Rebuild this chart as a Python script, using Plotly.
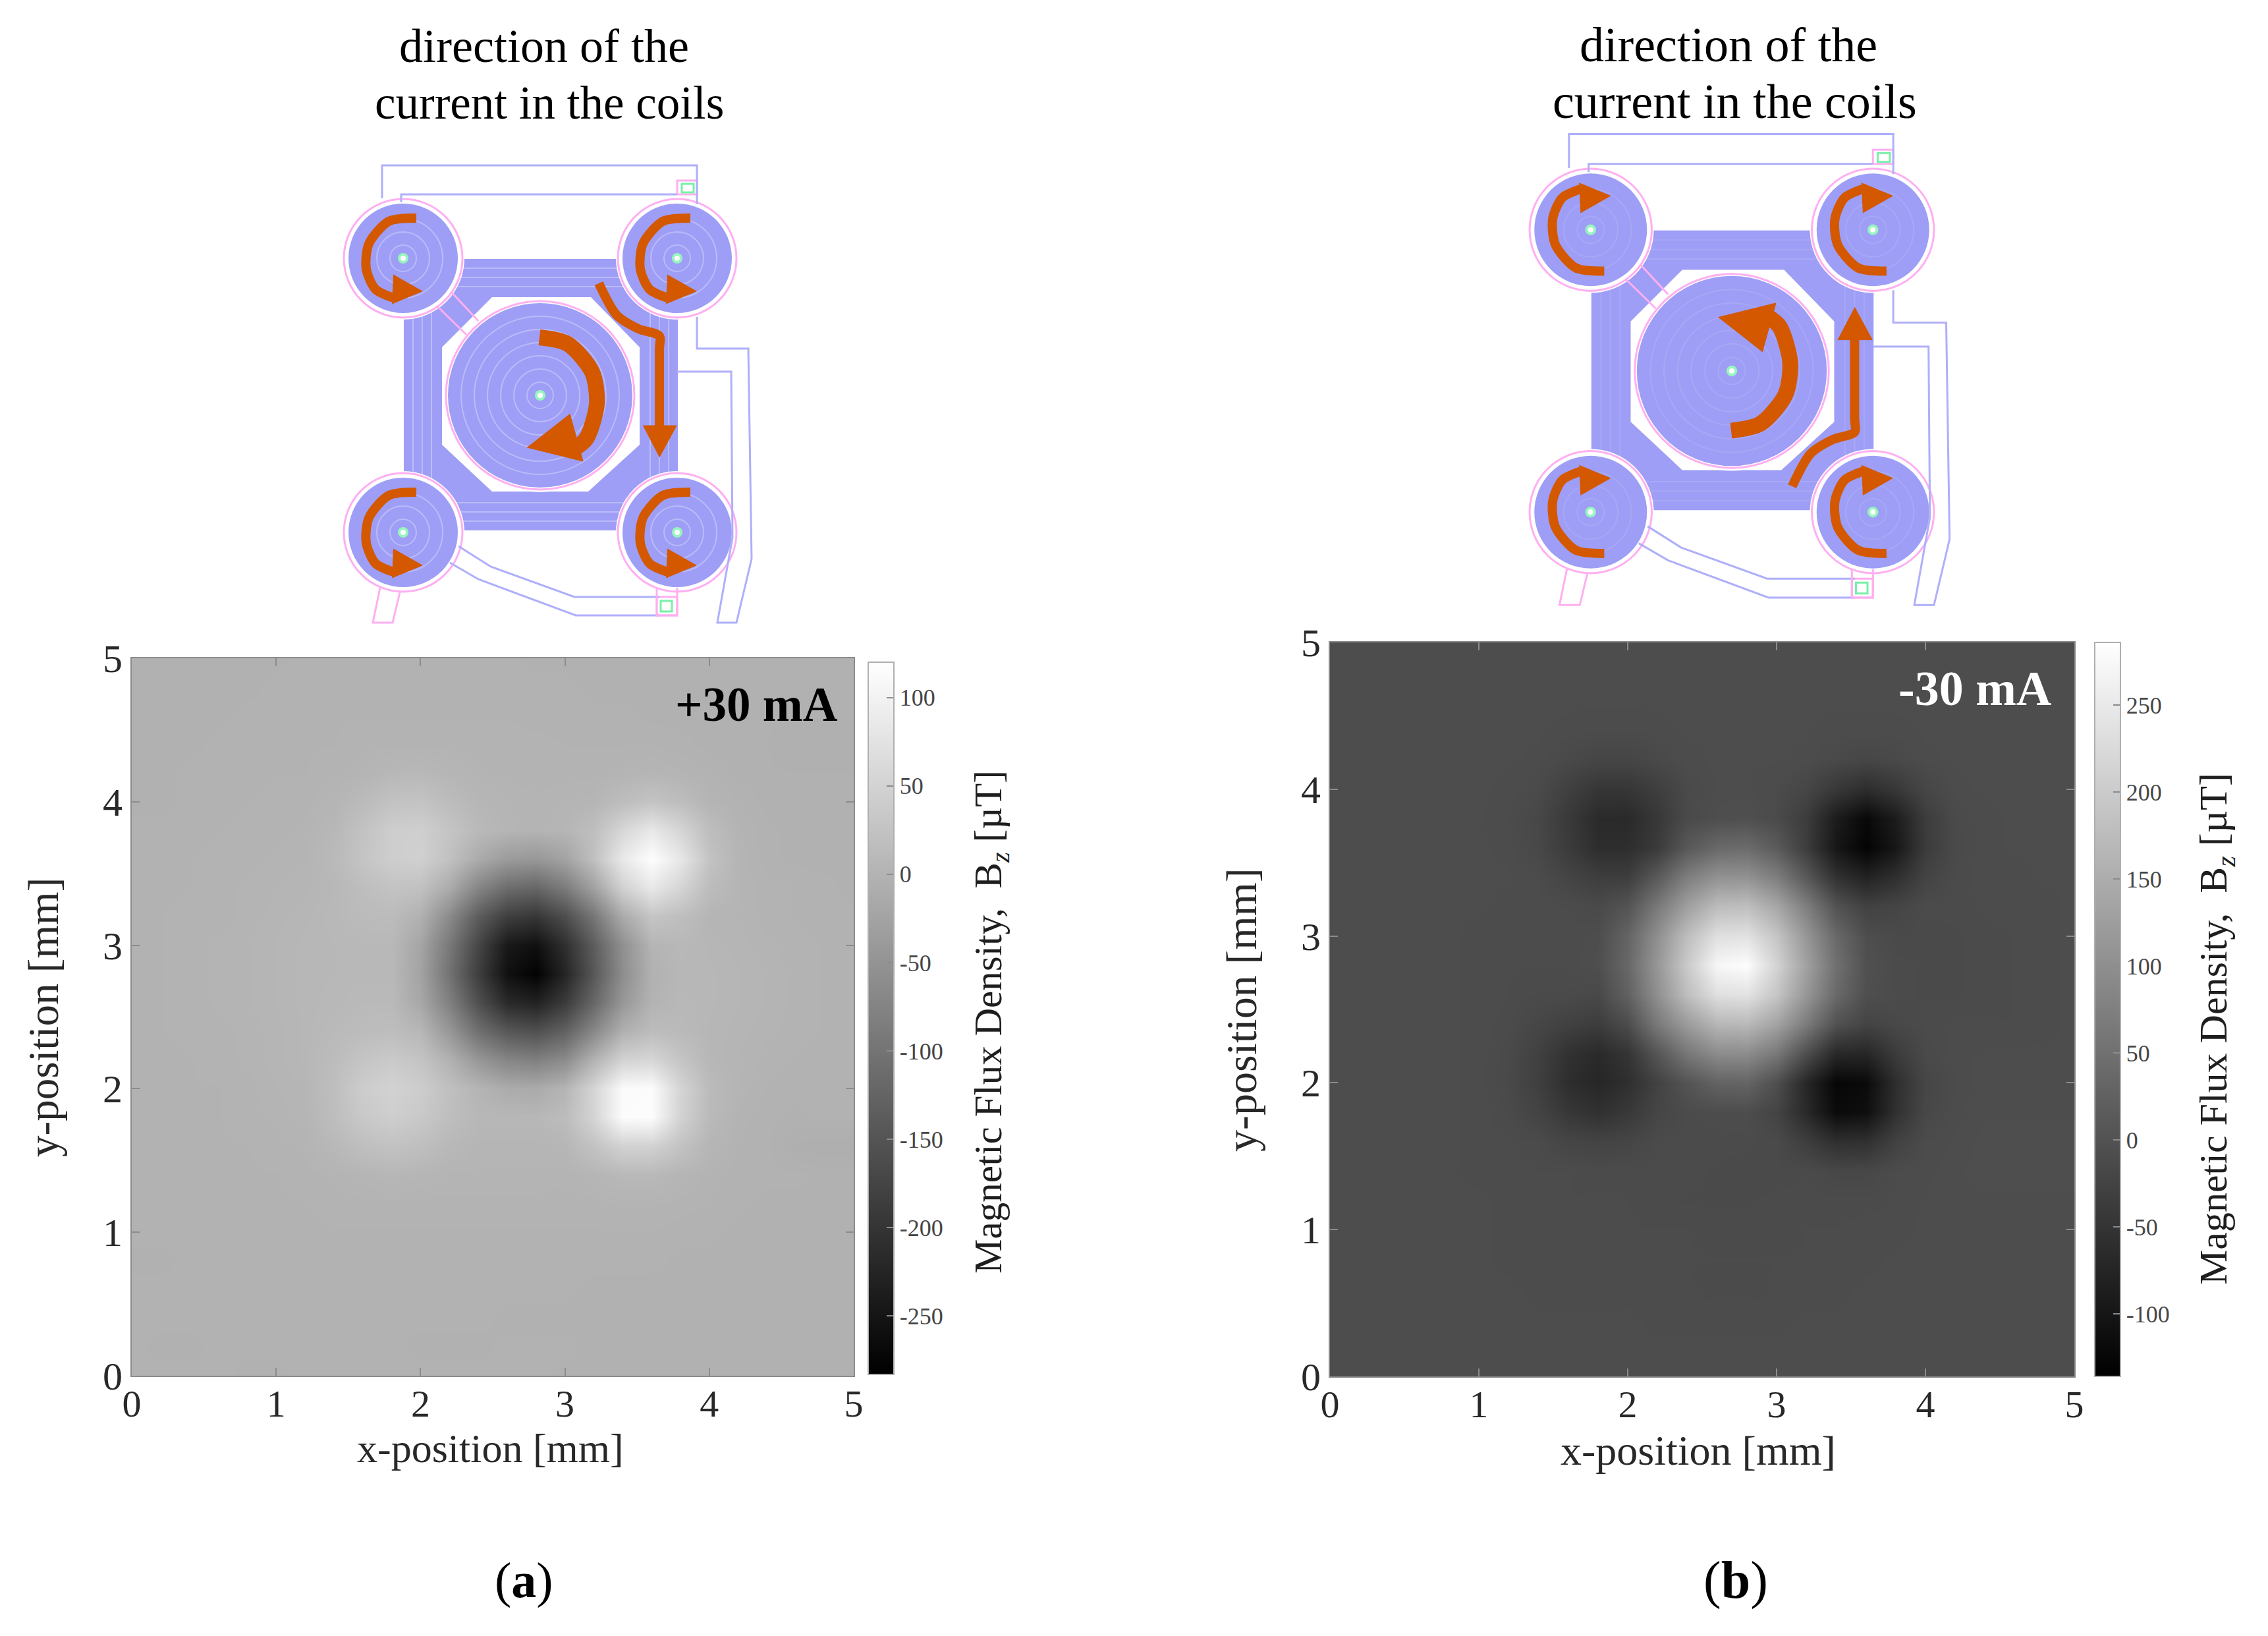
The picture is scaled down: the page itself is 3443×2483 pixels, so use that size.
# %%
import plotly.graph_objs as go

PAGE_W = 3443
PAGE_H = 2483
# the browser leaves this body margin around the figure
PAGE_PAD = 8

# measured grid positions [mm]
x_mm = [0.0, 0.2, 0.4, 0.6, 0.8, 1.0, 1.2, 1.4, 1.6, 1.8, 2.0, 2.2, 2.4, 2.6, 2.8, 3.0, 3.2, 3.4, 3.6, 3.8, 4.0, 4.2, 4.4, 4.6, 4.8, 5.0]
y_mm = [0.0, 0.2, 0.4, 0.6, 0.8, 1.0, 1.2, 1.4, 1.6, 1.8, 2.0, 2.2, 2.4, 2.6, 2.8, 3.0, 3.2, 3.4, 3.6, 3.8, 4.0, 4.2, 4.4, 4.6, 4.8, 5.0]

# Bz [uT] at +30 mA, rows run from y=0 to y=5
bz_plus = [
    [-2, -2, -2, -2, -3, -3, -2, -2, -2, -2, -2, -2, -2, -2, -2, -3, -3, -3, -3, -3, -3, -3, -3, -3, -3, -3],
    [-2, -3, -3, -2, -2, -2, -2, -2, -2, -2, -3, -3, -3, -2, -2, -2, -3, -3, -3, -3, -3, -4, -4, -3, -3, -3],
    [-2, -2, -2, -2, -2, -2, -2, -1, -1, -2, -2, -2, -2, -3, -3, -3, -3, -3, -3, -3, -4, -4, -4, -4, -4, -4],
    [-2, -2, -2, -2, -2, -2, -2, -2, -2, -2, -2, -2, -2, -2, -2, -2, -3, -3, -3, -3, -3, -3, -3, -4, -4, -4],
    [-3, -3, -2, -2, -2, -2, -1, -1, -1, -1, -1, -1, -1, -2, -2, -2, -2, -2, -2, -3, -3, -3, -4, -4, -4, -4],
    [-2, -2, -2, -2, -2, -2, -2, -1, -1, -1, -1, -1, -1, -1, -1, -1, -1, -1, -1, -2, -2, -3, -3, -3, -3, -3],
    [-2, -2, -2, -2, -1, -1, -1, 0, 0, 0, 0, 0, 0, 0, 0, 0, 0, 1, 1, 0, -1, -2, -3, -3, -3, -3],
    [-2, -2, -2, -2, -1, -1, 0, 1, 3, 6, 4, 2, 2, 2, 2, 1, 3, 9, 9, 3, 0, -2, -2, -2, -3, -3],
    [-2, -2, -2, -1, -1, 0, 1, 8, 18, 23, 18, 8, 3, 3, 3, 5, 24, 48, 48, 24, 3, -1, -2, -6, -7, -7],
    [-2, -2, -2, -1, 0, 1, 3, 16, 34, 42, 34, 17, 7, 7, 7, 14, 52, 115, 116, 50, 10, 0, -2, -3, -2, -2],
    [-2, -2, -1, -1, 0, 2, 4, 18, 40, 49, 41, 20, 2, -12, -14, 3, 53, 113, 115, 52, 12, 2, -1, -2, -2, -2],
    [-2, -2, -1, 0, 1, 3, 6, 14, 28, 36, 27, -2, -44, -72, -80, -62, 0, 50, 56, 28, 6, 2, 0, -1, -2, -2],
    [-2, -1, 0, 0, 1, 3, 6, 10, 14, 16, 6, -44, -107, -145, -157, -129, -69, -5, 15, 10, 5, 3, 1, 0, -1, -2],
    [-2, -1, 0, 1, 2, 4, 6, 8, 10, 10, -18, -80, -157, -217, -229, -189, -120, -44, 0, 8, 6, 4, 2, 0, -1, -2],
    [-2, -1, 0, 1, 2, 4, 6, 7, 8, 8, -25, -102, -185, -257, -280, -225, -145, -60, -3, 6, 6, 4, 2, 0, -1, -2],
    [-2, -1, 0, 1, 2, 4, 6, 7, 8, 8, -22, -93, -173, -245, -258, -209, -137, -56, 2, 8, 5, 3, 1, 0, -1, -2],
    [-2, -1, 0, 0, 1, 3, 5, 8, 12, 13, -3, -64, -137, -185, -197, -161, -96, -14, 28, 17, 3, 2, 0, -1, -2, -2],
    [-2, -2, -1, 0, 1, 2, 3, 7, 17, 25, 22, -12, -72, -111, -120, -87, -28, 48, 84, 54, 14, 2, 0, -1, -2, -3],
    [-2, -2, -1, 0, 0, 1, 2, 10, 27, 42, 46, 22, -13, -38, -44, -26, 20, 85, 118, 82, 25, 2, -2, -3, -3, -3],
    [-2, -2, -2, -1, 0, 0, 1, 7, 24, 42, 44, 27, 10, 3, 1, 4, 18, 56, 84, 54, 16, 1, -2, -3, -3, -4],
    [-3, -3, -2, -2, -1, 0, 0, 3, 12, 24, 26, 14, 5, 2, 1, 2, 3, 16, 26, 16, 2, -1, -3, -4, -4, -4],
    [-3, -3, -2, -2, -2, -1, -1, 0, 2, 7, 8, 4, 1, 0, 0, 0, 0, 1, 3, 1, -1, -3, -4, -4, -4, -4],
    [-3, -3, -3, -2, -2, -2, -1, -1, 0, 0, 0, 0, 0, 0, 0, -1, -1, -1, -1, -2, -3, -4, -4, -5, -5, -5],
    [-3, -3, -3, -3, -2, -2, -2, -1, -1, -1, -1, -1, -1, -1, -2, -2, -2, -2, -3, -3, -3, -4, -4, -4, -4, -4],
    [-3, -3, -3, -3, -3, -2, -2, -2, -2, -2, -2, -2, -2, -2, -2, -2, -3, -3, -3, -3, -3, -3, -3, -3, -4, -4],
    [-3, -3, -3, -3, -3, -3, -2, -2, -2, -2, -2, -2, -2, -2, -3, -3, -3, -3, -3, -3, -3, -3, -3, -3, -3, -3],
]

# Bz [uT] at -30 mA, rows run from y=0 to y=5
bz_minus = [
    [-9, -9, -9, -9, -9, -9, -9, -9, -9, -9, -9, -9, -9, -9, -9, -9, -9, -9, -9, -9, -9, -9, -9, -9, -9, -9],
    [-9, -9, -9, -9, -9, -9, -9, -9, -9, -9, -9, -9, -9, -9, -9, -9, -9, -9, -9, -9, -9, -9, -9, -9, -9, -9],
    [-9, -9, -9, -9, -9, -9, -9, -9, -9, -9, -9, -10, -10, -10, -10, -10, -9, -9, -9, -9, -9, -9, -9, -8, -8, -8],
    [-9, -9, -9, -9, -9, -9, -9, -10, -10, -10, -10, -10, -11, -12, -12, -11, -10, -10, -9, -9, -9, -9, -9, -9, -9, -9],
    [-9, -9, -9, -9, -9, -9, -10, -10, -10, -11, -11, -11, -11, -11, -11, -11, -11, -10, -10, -9, -9, -9, -9, -9, -9, -9],
    [-9, -9, -9, -9, -9, -9, -10, -10, -10, -10, -11, -11, -11, -12, -12, -12, -11, -11, -10, -10, -9, -8, -8, -8, -8, -8],
    [-9, -9, -9, -9, -9, -9, -10, -10, -11, -11, -11, -12, -13, -13, -13, -12, -12, -12, -12, -11, -9, -8, -8, -8, -8, -8],
    [-9, -9, -9, -9, -9, -10, -10, -11, -11, -12, -12, -12, -12, -13, -14, -14, -13, -18, -18, -11, -10, -8, -7, -7, -7, -7],
    [-9, -9, -9, -9, -9, -10, -11, -13, -21, -24, -21, -13, -12, -12, -12, -14, -34, -58, -56, -28, -11, -9, -7, -7, -7, -7],
    [-9, -9, -9, -9, -9, -10, -13, -24, -45, -56, -43, -21, -12, -10, -9, -24, -68, -118, -112, -56, -18, -10, -8, -8, -8, -8],
    [-9, -9, -9, -9, -9, -10, -15, -32, -61, -73, -59, -27, 3, 28, 30, -6, -72, -126, -119, -60, -20, -11, -8, -8, -9, -9],
    [-9, -9, -9, -9, -9, -10, -14, -29, -54, -67, -50, 5, 61, 95, 95, 62, -8, -70, -73, -38, -14, -10, -9, -9, -9, -9],
    [-9, -9, -9, -9, -9, -10, -12, -20, -29, -36, -10, 65, 121, 166, 170, 134, 68, -2, -24, -16, -12, -11, -11, -11, -10, -9],
    [-9, -9, -9, -9, -9, -10, -11, -13, -13, -16, 24, 101, 178, 234, 238, 190, 113, 38, -6, -12, -13, -13, -12, -11, -10, -9],
    [-9, -9, -9, -9, -9, -10, -11, -11, -11, -7, 35, 113, 198, 272, 282, 213, 130, 49, -3, -12, -13, -13, -12, -11, -10, -9],
    [-9, -9, -9, -9, -9, -10, -11, -11, -11, -8, 29, 101, 178, 234, 238, 190, 113, 38, -8, -14, -14, -13, -12, -11, -10, -9],
    [-9, -9, -9, -9, -9, -9, -10, -10, -11, -15, 3, 65, 128, 176, 180, 140, 74, 1, -28, -22, -12, -12, -11, -10, -10, -9],
    [-9, -9, -9, -9, -9, -9, -9, -11, -23, -34, -34, 12, 72, 105, 105, 72, 10, -55, -80, -58, -24, -12, -10, -10, -9, -9],
    [-9, -9, -9, -9, -9, -9, -10, -17, -38, -61, -60, -39, 10, 38, 42, 14, -36, -98, -130, -98, -38, -14, -10, -9, -9, -9],
    [-9, -9, -9, -9, -9, -9, -11, -18, -41, -66, -67, -44, -14, -7, -5, -13, -36, -90, -122, -90, -36, -13, -10, -9, -9, -9],
    [-9, -9, -9, -9, -9, -9, -10, -13, -31, -47, -47, -33, -14, -9, -9, -12, -20, -44, -62, -44, -20, -10, -9, -9, -9, -9],
    [-9, -9, -9, -9, -9, -9, -9, -10, -15, -21, -21, -15, -10, -9, -9, -9, -10, -15, -20, -15, -10, -9, -9, -9, -9, -9],
    [-9, -9, -9, -9, -9, -9, -9, -9, -10, -11, -11, -10, -9, -9, -9, -9, -9, -10, -10, -10, -9, -9, -9, -9, -9, -9],
    [-9, -9, -9, -9, -9, -9, -9, -9, -9, -9, -9, -9, -9, -8, -8, -9, -9, -9, -9, -9, -9, -9, -9, -9, -9, -9],
    [-9, -9, -9, -9, -9, -9, -9, -9, -9, -9, -9, -9, -9, -9, -9, -9, -9, -9, -9, -9, -9, -9, -9, -9, -9, -9],
    [-9, -9, -9, -9, -9, -9, -9, -9, -9, -9, -9, -9, -9, -9, -9, -9, -9, -9, -9, -9, -9, -9, -9, -9, -9, -9],
]

axis_ticks = [0, 1, 2, 3, 4, 5]
cbar_plus_ticks = [-250, -200, -150, -100, -50, 0, 50, 100]
cbar_plus_labels = ["-250", "-200", "-150", "-100", "-50", "0", "50", "100"]
cbar_minus_ticks = [-100, -50, 0, 50, 100, 150, 200, 250]
cbar_minus_labels = ["-100", "-50", "0", "50", "100", "150", "200", "250"]

# coil layout sketch, px relative to the centre coil of panel (a)
coil_centres = [(-208, -208), (208, -208), (-208, 208), (208, 208)]
hole_x = [-73, 77, 151, 151, 73, -73, -149, -149]
hole_y = [-149, -149, -73, 75, 146, 146, 75, -73]
wires_blue = [
    ([-240, -240, 238, 238], [-299, -349, -349, -290]),
    ([-211, -211, 208], [-293, -305, -305]),
    ([238, 238, 316, 321, 298, 269, 292, 290, 208], [-119, -71, -71, 248, 345, 345, 216, -36, -36]),
    ([-124, -75, 52, 181], [229, 260, 306, 306]),
    ([-137, -94, 54, 181], [254, 279, 334, 334]),
]
wires_pink = [
    ([-243, -254, -224, -213], [292, 345, 345, 299]),
    ([-135, -94], [-157, -113]),
    ([-156, -112], [-135, -92]),
    ([177, 177, 208, 208], [292, 334, 334, 292]),
]
pads = [(208, -326, 238, -305, 215, -321, 233, -308), (177, 306, 208, 334, 183, 312, 200, 328)]
small_arc_x = [20, -22, -52, -56, -42, -15]
small_arc_y = [-61, -56, -22, 16, 47, 60]
small_head_x = [-15, 29, -17]
small_head_y = [25, 50, 69]
centre_arc_x = [-1, 42, 79, 86, 70, 50]
centre_arc_y = [-88, -78, -35, 13, 66, 82]
centre_head_x = [45, 65, -20]
centre_head_y = [28, 100, 79]
lead_x = [89, 116, 149, 181, 181, 181]
lead_y = [-170, -122, -101, -90, -70, 47]
lead_head_x = [156, 207, 181]
lead_head_y = [46, 46, 94]

SERIF = "Liberation Serif"
COIL_BLUE = "rgb(158,158,246)"
WIRE_BLUE = "rgb(175,175,250)"
PINK = "rgb(255,175,240)"
ORANGE = "rgb(211,88,0)"
AXIS_GREY = "rgb(140,140,140)"


def px_x(v):
    return (v - PAGE_PAD) / PAGE_W


def px_y(v):
    return 1 - (v - PAGE_PAD) / PAGE_H


def sketch(cx, cy, scale, flip, stripe):
    """Coil sketch, drawn on a hidden axis that runs in page pixels."""
    traces = []
    shapes = []
    sign = -1 if flip else 1

    def X(v):
        return cx + v * scale

    def Y(v):
        return cy + v * scale

    def rect(x0, y0, x1, y1, fill, line, width=0):
        shapes.append(dict(type="rect", xref="x3", yref="y3", x0=X(x0), y0=Y(y0), x1=X(x1), y1=Y(y1), fillcolor=fill,
                           line=dict(color=line, width=width), layer="below"))

    def disc(x, y, r, fill, line="rgba(0,0,0,0)", width=0):
        shapes.append(dict(type="circle", xref="x3", yref="y3", x0=X(x - r), y0=Y(y - r), x1=X(x + r), y1=Y(y + r),
                           fillcolor=fill, line=dict(color=line, width=width), layer="below"))

    # square coil band with the octagon hole
    rect(-207, -207, 209, 205, COIL_BLUE, COIL_BLUE)
    for inset in (14, 28, 42):
        rect(-207 + inset, -207 + inset, 209 - inset, 205 - inset, "rgba(0,0,0,0)", stripe, 2)
    hole_path = "M " + " L ".join(f"{X(a):.1f},{Y(b):.1f}" for a, b in zip(hole_x, hole_y)) + " Z"
    shapes.append(dict(type="path", xref="x3", yref="y3", path=hole_path, fillcolor="white", line=dict(width=0), layer="below"))

    # centre coil
    disc(0, 0, 147, "white")
    disc(0, 0, 143, "white", PINK, 3)
    disc(0, 0, 140, COIL_BLUE)
    for r in (20, 40, 60, 80, 100, 120):
        disc(0, 0, r, "rgba(0,0,0,0)", stripe, 2)

    # corner coils
    for px, py in coil_centres:
        disc(px, py, 93, "white")
        disc(px, py, 90, "white", PINK, 3)
        disc(px, py, 83, COIL_BLUE)
        for r in (20, 40, 60):
            disc(px, py, r, "rgba(0,0,0,0)", stripe, 2)

    # vias
    for px, py in coil_centres + [(0, 0)]:
        disc(px, py, 8, "rgb(150,245,190)")
        disc(px, py, 4, "white")

    # pads
    for p in pads:
        rect(p[0], p[1], p[2], p[3], "white", PINK, 3)
        rect(p[4], p[5], p[6], p[7], "white", "rgb(120,240,170)", 3)

    for xs, ys in wires_blue:
        traces.append(go.Scatter(x=[X(v) for v in xs], y=[Y(v) for v in ys], mode="lines", line=dict(color=WIRE_BLUE, width=3),
                                 xaxis="x3", yaxis="y3", showlegend=False, hoverinfo="skip"))
    for xs, ys in wires_pink:
        traces.append(go.Scatter(x=[X(v) for v in xs], y=[Y(v) for v in ys], mode="lines", line=dict(color=PINK, width=3),
                                 xaxis="x3", yaxis="y3", showlegend=False, hoverinfo="skip"))

    # current arrows, panel (b) is the same sketch flipped top to bottom
    def arrow(ox, oy, ax, ay, hx, hy, width):
        traces.append(go.Scatter(x=[X(ox + v) for v in ax], y=[Y(oy + sign * v) for v in ay], mode="lines",
                                 line=dict(color=ORANGE, width=width, shape="spline", smoothing=0.8),
                                 xaxis="x3", yaxis="y3", showlegend=False, hoverinfo="skip"))
        traces.append(go.Scatter(x=[X(ox + v) for v in hx], y=[Y(oy + sign * v) for v in hy], mode="lines", fill="toself",
                                 fillcolor=ORANGE, line=dict(color=ORANGE, width=1),
                                 xaxis="x3", yaxis="y3", showlegend=False, hoverinfo="skip"))

    for px, py in coil_centres:
        arrow(px, py, small_arc_x, small_arc_y, small_head_x, small_head_y, 14)
    arrow(0, 0, centre_arc_x, centre_arc_y, centre_head_x, centre_head_y, 24)
    arrow(0, 0, lead_x, lead_y, lead_head_x, lead_head_y, 14)
    return traces, shapes


def cbar(x0, top, bottom, ticks, labels):
    return dict(x=px_x(x0), xanchor="left", xpad=0, ypad=0, y=px_y(bottom), yanchor="bottom", len=(bottom - top) / PAGE_H,
                lenmode="fraction", thickness=39, thicknessmode="pixels", ticks="inside", ticklen=12, tickwidth=2,
                tickcolor=AXIS_GREY, tickvals=ticks, ticktext=labels, tickfont=dict(family=SERIF, size=36, color="rgb(70,70,70)"),
                outlinecolor="rgb(175,175,175)", outlinewidth=2, borderwidth=0)


gray = [[0, "black"], [1, "white"]]
data = [
    go.Heatmap(x=x_mm, y=y_mm, z=bz_plus, zmin=-283, zmax=120, colorscale=gray, zsmooth="best", xaxis="x", yaxis="y",
               colorbar=cbar(1318, 1005, 2086, cbar_plus_ticks, cbar_plus_labels)),
    go.Heatmap(x=x_mm, y=y_mm, z=bz_minus, zmin=-136, zmax=286, colorscale=gray, zsmooth="best", xaxis="x2", yaxis="y2",
               colorbar=cbar(3180, 975, 2089, cbar_minus_ticks, cbar_minus_labels)),
]

traces_a, shapes_a = sketch(820, 600, 1.0, False, "rgba(222,222,255,0.45)")
traces_b, shapes_b = sketch(2629, 563, 1.03, True, "rgba(185,185,250,0.35)")
data = data + traces_a + traces_b


def heat_axis(domain, anchor, label_shift, label_size):
    return dict(domain=domain, range=[0, 5], tickvals=axis_ticks, ticks="inside", ticklen=12, tickwidth=2, tickcolor=AXIS_GREY,
                showgrid=False, zeroline=False, showline=True, linecolor=AXIS_GREY, linewidth=2, mirror="ticks", anchor=anchor,
                tickfont=dict(family=SERIF, size=label_size, color="rgb(40,40,40)"), ticklabelstandoff=label_shift)


def note(x, y, text, size, color="black", angle=0):
    return dict(x=px_x(x), y=px_y(y), xref="paper", yref="paper", text=text, showarrow=False, textangle=angle,
                font=dict(family=SERIF, size=size, color=color), xanchor="center", yanchor="middle")


bz_title = "Magnetic Flux Density,  B<sub><i>z</i></sub> [µT]"
annotations = [
    note(826, 70, "direction of the", 72),
    note(834, 156, "current in the coils", 71),
    note(2624, 68, "direction of the", 74),
    note(2633, 154, "current in the coils", 74),
    note(1148, 1069, "<b>+30 mA</b>", 73),
    note(2998, 1045, "<b>-30 mA</b>", 74, "white"),
    note(744, 2198, "x-position [mm]", 62, "rgb(40,40,40)"),
    note(66, 1544, "y-position [mm]", 65, "rgb(40,40,40)", -90),
    note(2578, 2201, "x-position [mm]", 64, "rgb(40,40,40)"),
    note(1884, 1533, "y-position [mm]", 66, "rgb(40,40,40)", -90),
    note(1504, 1551, bz_title, 59, "rgb(30,30,30)", -90),
    note(3364, 1562, bz_title, 60, "rgb(30,30,30)", -90),
    note(795, 2398, "(<b>a</b>)", 76),
    note(2635, 2398, "(<b>b</b>)", 80),
]

layout = go.Layout(
    width=PAGE_W,
    height=PAGE_H,
    autosize=False,
    margin=dict(l=0, r=0, t=0, b=0, autoexpand=False),
    paper_bgcolor="white",
    plot_bgcolor="rgba(0,0,0,0)",
    showlegend=False,
    xaxis=heat_axis([px_x(200), px_x(1296)], "y", -10, 58),
    yaxis=heat_axis([px_y(2088), px_y(999)], "x", 0, 60),
    xaxis2=heat_axis([px_x(2019), px_x(3149)], "y2", -10, 58),
    yaxis2=heat_axis([px_y(2089), px_y(975)], "x2", 0, 60),
    xaxis3=dict(domain=[0, 1], range=[PAGE_PAD, PAGE_W + PAGE_PAD], visible=False, anchor="y3", fixedrange=True),
    yaxis3=dict(domain=[0, 1], range=[PAGE_H + PAGE_PAD, PAGE_PAD], visible=False, anchor="x3", fixedrange=True),
    shapes=shapes_a + shapes_b,
    annotations=annotations,
)

fig = go.Figure(data=data, layout=layout)
fig.write_html("out.html")
